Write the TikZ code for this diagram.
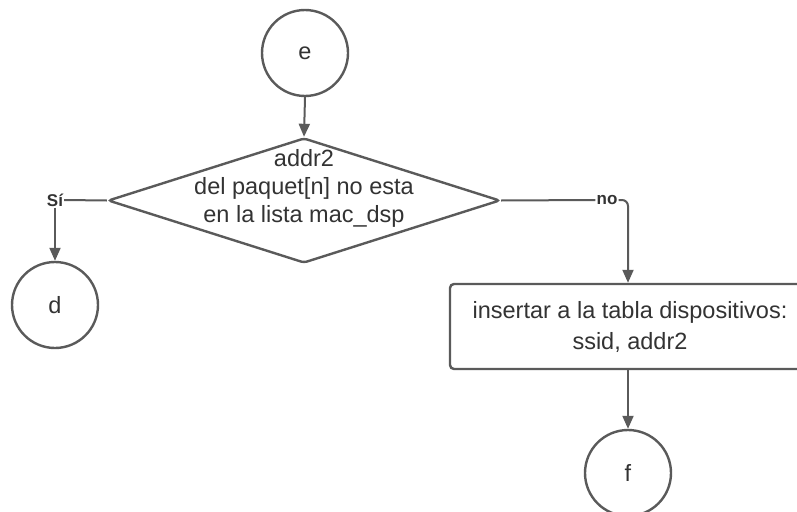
\documentclass[tikz,border=0pt]{standalone}
\usepackage{fontspec}
\setmainfont{Liberation Sans}
\usetikzlibrary{shapes.geometric,arrows.meta}
\definecolor{linegray}{HTML}{5A5A5A}
\definecolor{textgray}{HTML}{333333}
\tikzset{
  x=1pt, y=-1pt,
  shape line/.style={draw=linegray, line width=2.4pt, fill=white},
  connector/.style={draw=linegray, line width=2pt},
  arrowed/.style={connector, -{Triangle[length=13pt,width=11pt]}},
  termcircle/.style={shape line, circle, minimum size=86pt, inner sep=0pt,
    text=textgray, font=\fontsize{23.5}{28}\selectfont},
  decision/.style={shape line, diamond, minimum width=392pt, minimum height=125pt,
    inner sep=0pt, rounded corners=3pt},
  processbox/.style={shape line, rectangle, rounded corners=4pt, minimum width=356pt,
    minimum height=85pt, inner sep=0pt},
  bodytext/.style={text=textgray, align=center, font=\fontsize{23.5}{28}\selectfont},
  branchlabel/.style={text=textgray, inner sep=1pt, font=\fontsize{17}{20}\selectfont\bfseries},
}
\begin{document}
\begin{tikzpicture}
  \useasboundingbox (0,0) rectangle (797,511);

  % nodes
  \node[termcircle] (e) at (305,53) {e};
  \node[decision] (q) at (304,200.5) {};
  \node[bodytext] (qtext) at (304,188) {addr2\\del paquet[n] no esta\\en la lista mac\_dsp};
  \node[branchlabel] (si) at (55,200) {Sí};
  \node[termcircle] (d) at (55,305) {d};
  \node[branchlabel] (no) at (607,200) {no};
  \node[processbox] (ins) at (628,326.5) {};
  \node[bodytext, font=\fontsize{23.5}{31}\selectfont] (instext) at (630,327)
    {insertar a la tabla dispositivos:\\ssid, addr2};
  \node[termcircle] (f) at (628,473) {f};

  % connectors
  \draw[arrowed] (e.south) -- (q.north);
  \draw[connector] (q.west) -- (si.east);
  \draw[arrowed] (si.south) -- (d.north);
  \draw[connector] (q.east) -- (no.west);
  \draw[arrowed, rounded corners=6pt] (no.east) -- (628,200) -- (ins.north);
  \draw[arrowed] (ins.south) -- (f.north);
\end{tikzpicture}
\end{document}
